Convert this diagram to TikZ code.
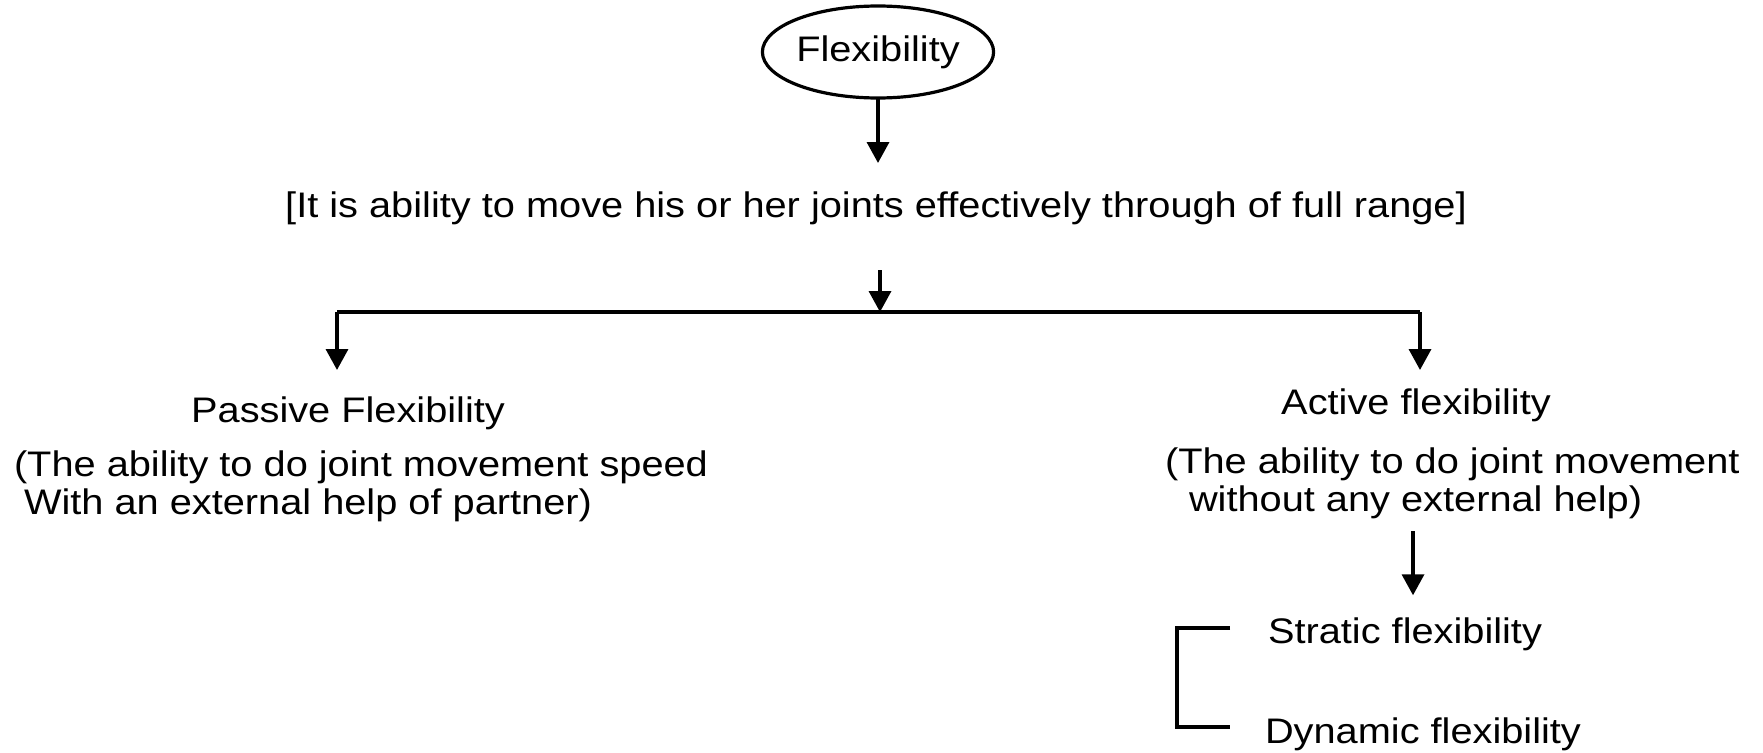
\documentclass[tikz,border=0pt]{standalone}
\usepackage{fontspec}
\setmainfont{Liberation Sans}[FakeStretch=1.12]
\usetikzlibrary{positioning,calc,arrows.meta,shapes.geometric}
\tikzstyle{txt} = [ inner sep = 0pt, outer sep = 0pt, font = \fontsize{35.5}{38}\selectfont ]
\tikzstyle{root} = [ txt, draw, ellipse, line width = 3.2pt, minimum width = 208pt, minimum height = 92pt ]
\tikzstyle{edge} = [ line width = 3.5pt, -{Triangle[width=22pt,length=21pt]} ]
\tikzstyle{plain} = [ line width = 3.5pt ]

\begin{document}
\begin{tikzpicture}[x=1pt, y=-1pt]
	\useasboundingbox (0,0) rectangle (1763,752);

	\node[root] (flex) at ( 878, 52 ) {Flexibility};
	\node[txt, anchor=base] (defn) at ( 876, 217 ) {[It is ability to move his or her joints effectively through of full range]};
	\coordinate (split) at ( 880, 312 );

	\node[txt, anchor=base] (pas) at ( 348, 422 ) {Passive Flexibility};
	\node[txt, align=left, anchor=north west] (pasd) at ( 14, 451 ) {(The ability to do joint movement speed\\\hspace*{10pt}With an external help of partner)};

	\node[txt, anchor=base] (act) at ( 1416, 414 ) {Active flexibility};
	\node[txt, align=left, anchor=north west] (actd) at ( 1165, 448 ) {(The ability to do joint movement\\\hspace*{24pt}without any external help)};

	\node[txt, anchor=base west] (strat) at ( 1268, 643 ) {Stratic flexibility};
	\node[txt, anchor=base west] (dyn) at ( 1265, 743 ) {Dynamic flexibility};

	\draw[edge] (flex.south) -- (flex.south |- 0, 163);
	\draw[edge, shorten <=46pt] (defn.south -| split) -- (split);
	\draw[plain] (split) -- (split -| 337, 0) coordinate (sl);
	\draw[plain] (split) -- (split -| 1420, 0) coordinate (sr);
	\draw[edge] (sl) -- ++(0, 58);
	\draw[edge] (sr) -- ++(0, 58);
	\draw[edge, shorten <=12pt, shorten >=22pt] (actd.south -| 1413, 0) -- (strat.north -| 1413, 0);
	\draw[plain] ([xshift=-38pt, yshift=15pt]strat.base west) -- ++(-53, 0) |- ([xshift=-35pt, yshift=16pt]dyn.base west);
\end{tikzpicture}
\end{document}
